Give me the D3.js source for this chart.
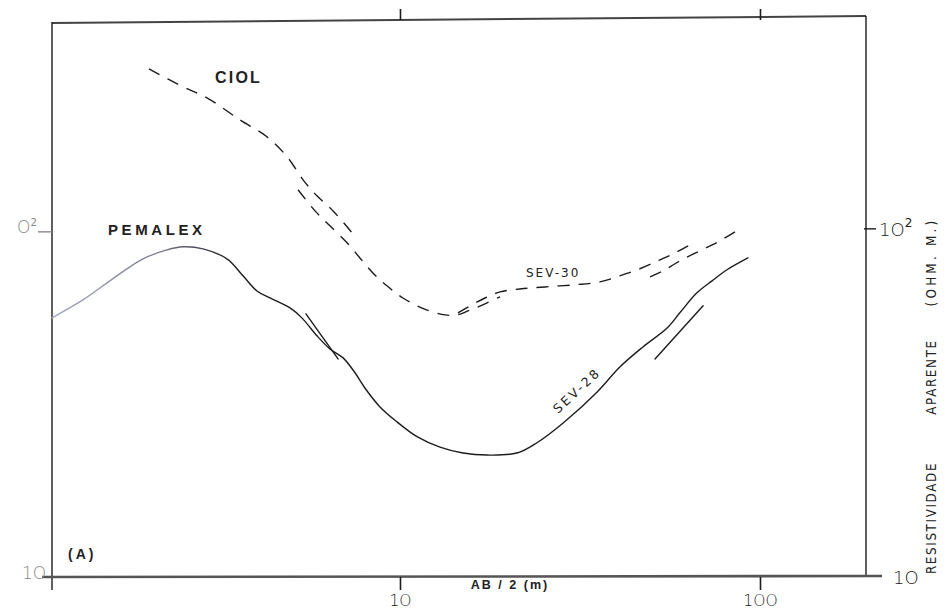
<!DOCTYPE html>
<html><head><meta charset="utf-8">
<script src="https://cdn.jsdelivr.net/npm/d3@7"></script>
<style>
body{margin:0;background:#fff;}
svg{display:block;}
</style></head>
<body>
<svg id="c" width="944" height="610"></svg>
<script>
// ---- data (AB/2 in m, apparent resistivity in ohm.m) ----
const xTicks = [10, 100];
const xTickLabels = ["1O", "1OO"];
const yTicks = [10, 100];

// SEV-28 (PEMALEX) main curve
const sev28X = [1.08,1.316,1.636,1.932,2.253,2.496,2.837,3.307,3.664,4.006,4.355,4.95,5.34,5.88,6.39,6.95,7.50,7.99,8.80,9.81,11.15,12.92,14.96,17.45,21.13,24.0,28.4,35.3,40.8,47.3,55.2,59.9,66.8,73.6,81.0,92.6];
const sev28Y = [55.5,62.5,73.3,82.0,87.0,88.8,87.6,82.0,73.3,66.3,63.3,59.3,55.5,49.3,45.2,42.6,38.6,34.9,30.8,27.9,25.3,23.6,22.7,22.4,22.7,24.3,27.7,34.0,40.1,45.8,51.9,57.4,65.5,70.9,76.3,82.5];
// SEV-28 overlap segments
const sev28SegAX = [5.48, 6.73];
const sev28SegAY = [57.0, 42.3];
const sev28SegBX = [51.1, 69.5];
const sev28SegBY = [42.3, 60.1];

// SEV-30 (CIOL) dashed segments
const sev30aX = [2.008,2.496,2.91,3.59,4.27,4.86,5.38,5.88,6.52,7.36];
const sev30aY = [288,255.9,237.9,205.7,183.8,161.0,138.3,124.4,112.6,97.4];
const sev30bX = [5.21,5.81,6.39,7.13,7.74,8.41,9.20,10.19,11.66,13.34,14.40,15.45,17.22,18.96];
const sev30bY = [129.5,112.6,102.0,91.2,82.5,74.7,68.6,63.3,58.9,56.6,56.6,58.1,60.9,63.8];
const sev30cX = [14.49,15.85,17.22,18.96,21.54,25.28,30.6,35.9,40.8,46.4,52.7,58.1,63.9];
const sev30cY = [57.4,60.5,63.3,65.9,67.2,68.1,69.1,70.4,73.3,76.8,81.4,85.3,89.9];
const sev30dX = [49.5,54.5,59.9,68.1,77.4,86.9];
const sev30dY = [72.8,76.3,80.9,86.5,92.4,99.3];

// ---- layout ----
const svg = d3.select("#c");
const L = 52, R = 866, T = 20, B = 577;
const x = d3.scaleLog().domain([1.08, 197]).range([L, R]);
const y = d3.scaleLog().domain([10, 398]).range([B, T]);
const ink = "#1c1c1c";
const tickFont = "'DejaVu Sans', 'Liberation Sans', sans-serif";
const boldFont = "'Liberation Sans', Arial, sans-serif";

// faded-ink gradient for the left part of SEV-28 (as in the scan)
const defs = svg.append("defs");
const grad = defs.append("linearGradient").attr("id", "fade")
  .attr("gradientUnits", "userSpaceOnUse").attr("x1", L).attr("x2", 240).attr("y1", 0).attr("y2", 0);
grad.append("stop").attr("offset", 0).attr("stop-color", "#a4a8bd");
grad.append("stop").attr("offset", 0.55).attr("stop-color", "#7c7f90");
grad.append("stop").attr("offset", 1).attr("stop-color", ink);

// frame
const g = svg.append("g");
g.append("line").attr("x1", L).attr("y1", 23).attr("x2", R).attr("y2", 16)
  .attr("stroke", "#444").attr("stroke-width", 2);
g.append("line").attr("x1", L).attr("y1", 22).attr("x2", L).attr("y2", 590)
  .attr("stroke", ink).attr("stroke-width", 1.4);
g.append("line").attr("x1", R).attr("y1", 16).attr("x2", R).attr("y2", B)
  .attr("stroke", ink).attr("stroke-width", 1.4);
g.append("line").attr("x1", 42).attr("y1", B).attr("x2", 882).attr("y2", B - 1)
  .attr("stroke", "#555").attr("stroke-width", 2.6);

// bottom axis ticks
const xb = d3.axisBottom(x).tickValues(xTicks).tickSizeInner(13).tickSizeOuter(0).tickPadding(5)
  .tickFormat((d, i) => xTickLabels[i]);
const gb = svg.append("g").attr("transform", `translate(0,${B})`).call(xb);
gb.select(".domain").remove();
gb.selectAll("line").attr("stroke", ink).attr("stroke-width", 1.6);
gb.selectAll("text").attr("font-family", tickFont).attr("font-weight", 200)
  .attr("font-size", 15.5).attr("fill", "#222");

// top axis ticks
const xt = d3.axisTop(x).tickValues(xTicks).tickSizeInner(11).tickSizeOuter(0).tickFormat("");
const gt = svg.append("g").attr("transform", `translate(0,${T})`).call(xt);
gt.select(".domain").remove();
gt.selectAll("line").attr("stroke", ink).attr("stroke-width", 1.6);

// right ticks & labels
svg.append("line").attr("x1", R - 2).attr("x2", R + 10).attr("y1", y(100)).attr("y2", y(100))
  .attr("stroke", ink).attr("stroke-width", 1.4);
svg.append("text").attr("x", 879).attr("y", y(100) + 7).attr("font-family", tickFont)
  .attr("font-weight", 200).attr("font-size", 18).attr("fill", "#222")
  .html('1O<tspan dy="-9" font-size="12" font-weight="400">2</tspan>');
svg.append("text").attr("x", 893).attr("y", y(10) + 7).attr("font-family", tickFont)
  .attr("font-weight", 200).attr("font-size", 18).attr("fill", "#222").text("1O");

// left ticks & labels (cropped in the original)
svg.append("line").attr("x1", 38).attr("x2", L).attr("y1", y(100) + 3).attr("y2", y(100) + 3)
  .attr("stroke", "#888").attr("stroke-width", 1.4);
svg.append("text").attr("x", 17).attr("y", y(100) + 4).attr("font-family", tickFont)
  .attr("font-weight", 200).attr("font-size", 17).attr("fill", "#888")
  .html('O<tspan dy="-7" font-size="10" font-weight="400">2</tspan>');
svg.append("text").attr("x", 22).attr("y", y(10) + 2).attr("font-family", tickFont)
  .attr("font-weight", 200).attr("font-size", 17).attr("fill", "#888").text("1O");

// axis titles
svg.append("text").attr("x", 510).attr("y", 589).attr("text-anchor", "middle")
  .attr("font-family", boldFont).attr("font-weight", "bold")
  .attr("font-size", 12.5).attr("fill", "#222").style("letter-spacing", "2px").text("AB / 2  (m)");
const rightTitle = [
  {t: "RESISTIVIDADE", c: 518, ls: "1.6px"},
  {t: "APARENTE", c: 377, ls: "1.6px"},
  {t: "(OHM. M.)", c: 262, ls: "3.2px"}
];
rightTitle.forEach(d => {
  svg.append("text").attr("transform", `translate(936,${d.c}) rotate(-90) scale(1,1.2)`)
    .attr("text-anchor", "middle")
    .attr("font-family", "'DejaVu Sans', sans-serif").attr("font-size", 12).attr("fill", "#222")
    .style("letter-spacing", d.ls).text(d.t);
});
svg.append("text").attr("x", 68).attr("y", 559)
  .attr("font-family", boldFont).attr("font-weight", "bold")
  .attr("font-size", 14).attr("fill", "#222").style("letter-spacing", "3px").text("(A)");

// curves
const line = d3.line().x(d => x(d[0])).y(d => y(d[1])).curve(d3.curveCatmullRom.alpha(0.5));
const zipXY = (a, b) => a.map((v, i) => [v, b[i]]);
const curves = svg.append("g").attr("fill", "none").attr("stroke", ink).attr("stroke-linecap", "round");

curves.append("path").attr("d", line(zipXY(sev28X, sev28Y))).attr("stroke", "url(#fade)").attr("stroke-width", 1.4);
curves.append("path").attr("d", line(zipXY(sev28SegAX, sev28SegAY))).attr("stroke-width", 1.4);
curves.append("path").attr("d", line(zipXY(sev28SegBX, sev28SegBY))).attr("stroke-width", 1.4);

[[sev30aX, sev30aY], [sev30bX, sev30bY], [sev30cX, sev30cY], [sev30dX, sev30dY]].forEach(([a, b]) => {
  curves.append("path").attr("d", line(zipXY(a, b))).attr("stroke-width", 1.4)
    .attr("stroke-dasharray", "12 9").attr("stroke-linecap", "butt");
});

// curve labels
svg.append("text").attr("x", 215).attr("y", 83)
  .attr("font-family", boldFont).attr("font-weight", "bold")
  .attr("font-size", 16).attr("fill", "#222").style("letter-spacing", "2.2px").text("CIOL");
svg.append("text").attr("x", 108).attr("y", 235)
  .attr("font-family", boldFont).attr("font-weight", "bold")
  .attr("font-size", 15).attr("fill", "#222").style("letter-spacing", "3.6px").text("PEMALEX");
svg.append("text").attr("x", 526).attr("y", 277)
  .attr("font-family", "'DejaVu Sans', sans-serif").attr("font-size", 12).attr("fill", "#222")
  .style("letter-spacing", "2px").text("SEV-30");
svg.append("text").attr("transform", "translate(558,414) rotate(-43)")
  .attr("font-family", "'DejaVu Sans', sans-serif").attr("font-size", 12.5).attr("fill", "#222")
  .style("letter-spacing", "2.6px").text("SEV-28");
</script>
</body></html>
